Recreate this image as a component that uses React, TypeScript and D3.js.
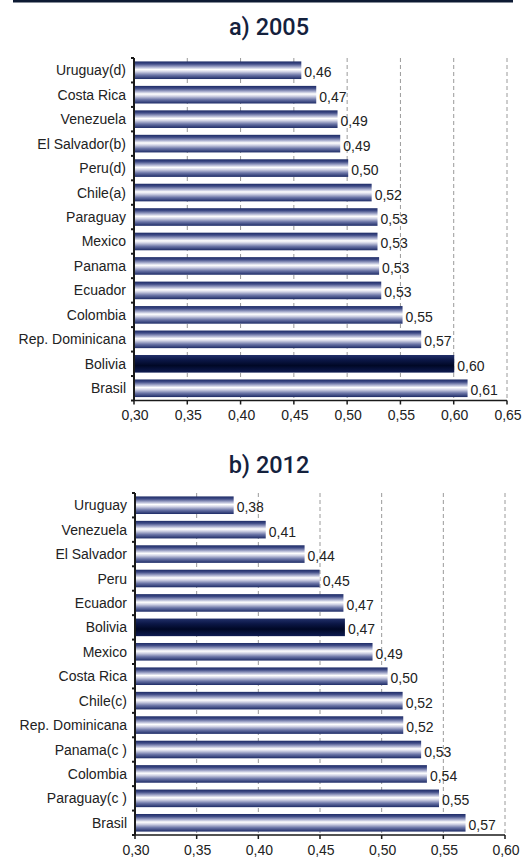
import React from "react";
import * as d3 from "d3";

const countries2005 = ["Uruguay(d)", "Costa Rica", "Venezuela", "El Salvador(b)", "Peru(d)", "Chile(a)", "Paraguay", "Mexico", "Panama", "Ecuador", "Colombia", "Rep. Dominicana", "Bolivia", "Brasil"];
const values2005 = [0.457, 0.471, 0.491, 0.4935, 0.501, 0.523, 0.5285, 0.5285, 0.53, 0.532, 0.552, 0.5695, 0.6005, 0.613];

const countries2012 = ["Uruguay", "Venezuela", "El Salvador", "Peru", "Ecuador", "Bolivia", "Mexico", "Costa Rica", "Chile(c)", "Rep. Dominicana", "Panama(c )", "Colombia", "Paraguay(c )", "Brasil"];
const values2012 = [0.380, 0.406, 0.4375, 0.4497, 0.469, 0.4702, 0.4926, 0.5048, 0.517, 0.5175, 0.532, 0.5367, 0.5465, 0.568];

const ticks2005 = [0.30, 0.35, 0.40, 0.45, 0.50, 0.55, 0.60, 0.65];
const ticks2012 = [0.30, 0.35, 0.40, 0.45, 0.50, 0.55, 0.60];

const highlight = "Bolivia";
const fmt = (v: number) => d3.format(".2f")(v).replace(".", ",");

type PanelProps = {
  title: string;
  titleY: number;
  cats: string[];
  vals: number[];
  ticks: number[];
  top: number;
  bottom: number;
  left: number;
  right: number;
};

function Panel({ title, titleY, cats, vals, ticks, top, bottom, left, right }: PanelProps) {
  const x = d3.scaleLinear().domain([ticks[0], ticks[ticks.length - 1]]).range([left, right]);
  const y = d3.scaleBand<string>().domain(cats).range([top, bottom]).paddingInner(0.28).paddingOuter(0.14);
  const step = y.step();
  const font = "'Liberation Sans', Arial, sans-serif";
  return (
    <g>
      <text x={269} y={titleY} textAnchor="middle" fontFamily="Roboto, sans-serif" fontWeight={500} fontSize={23.5} fill="#14213d">
        {title}
      </text>
      {ticks.slice(1).map((t) => (
        <line key={"g" + t} x1={x(t)} x2={x(t)} y1={top} y2={bottom} stroke="#9a9a9a" strokeWidth={1} strokeDasharray="4,3" />
      ))}
      {cats.map((c, i) => (
        <g key={c}>
          <rect
            x={x(ticks[0])}
            y={y(c)}
            width={x(vals[i]) - x(ticks[0])}
            height={y.bandwidth()}
            fill={c === highlight ? "url(#gradDark)" : "url(#gradBar)"}
          />
          <text x={x(vals[i]) + 3} y={(y(c) as number) + y.bandwidth() / 2 + 7} fontFamily={font} fontSize={14} fill="#222">
            {fmt(vals[i])}
          </text>
          <text x={left - 8} y={(y(c) as number) + y.bandwidth() / 2 + 5} textAnchor="end" fontFamily={font} fontSize={14} fill="#222">
            {c}
          </text>
        </g>
      ))}
      <line x1={left} x2={left} y1={top} y2={bottom} stroke="#1a1a1a" strokeWidth={2} />
      {d3.range(cats.length + 1).map((i) => (
        <line key={"yt" + i} x1={left - 3} x2={left} y1={top + i * step} y2={top + i * step} stroke="#1a1a1a" strokeWidth={2} />
      ))}
      <line x1={left - 1} x2={right} y1={bottom} y2={bottom} stroke="#1a1a1a" strokeWidth={1.5} />
      {ticks.map((t) => (
        <g key={"xt" + t}>
          <line x1={x(t)} x2={x(t)} y1={bottom} y2={bottom + 4} stroke="#1a1a1a" strokeWidth={1.5} />
          <text x={x(t) + 1} y={bottom + 19.5} textAnchor="middle" fontFamily={font} fontSize={14} fill="#222">
            {fmt(t)}
          </text>
        </g>
      ))}
    </g>
  );
}

export default function App() {
  return (
    <svg width={529} height={858} style={{ position: "absolute", left: 0, top: 0, background: "#fff" }}>
      <defs>
        <linearGradient id="gradBar" x1="0" y1="0" x2="0" y2="1">
          <stop offset="0%" stopColor="#1d2b66" />
          <stop offset="14%" stopColor="#3f4b86" />
          <stop offset="32%" stopColor="#a9aece" />
          <stop offset="46%" stopColor="#ffffff" />
          <stop offset="58%" stopColor="#d2d4e6" />
          <stop offset="78%" stopColor="#6a74a6" />
          <stop offset="100%" stopColor="#1d2b66" />
        </linearGradient>
        <linearGradient id="gradDark" x1="0" y1="0" x2="0" y2="1">
          <stop offset="0%" stopColor="#22306a" />
          <stop offset="30%" stopColor="#0b1645" />
          <stop offset="60%" stopColor="#000826" />
          <stop offset="100%" stopColor="#0e1b52" />
        </linearGradient>
      </defs>
      <rect x={13} y={0} width={500} height={2.5} fill="#0d1a33" />
      <Panel title="a) 2005" titleY={35} cats={countries2005} vals={values2005} ticks={ticks2005} top={58} bottom={400.5} left={134} right={507} />
      <Panel title="b) 2012" titleY={473} cats={countries2012} vals={values2012} ticks={ticks2012} top={493} bottom={835} left={135} right={505} />
    </svg>
  );
}
